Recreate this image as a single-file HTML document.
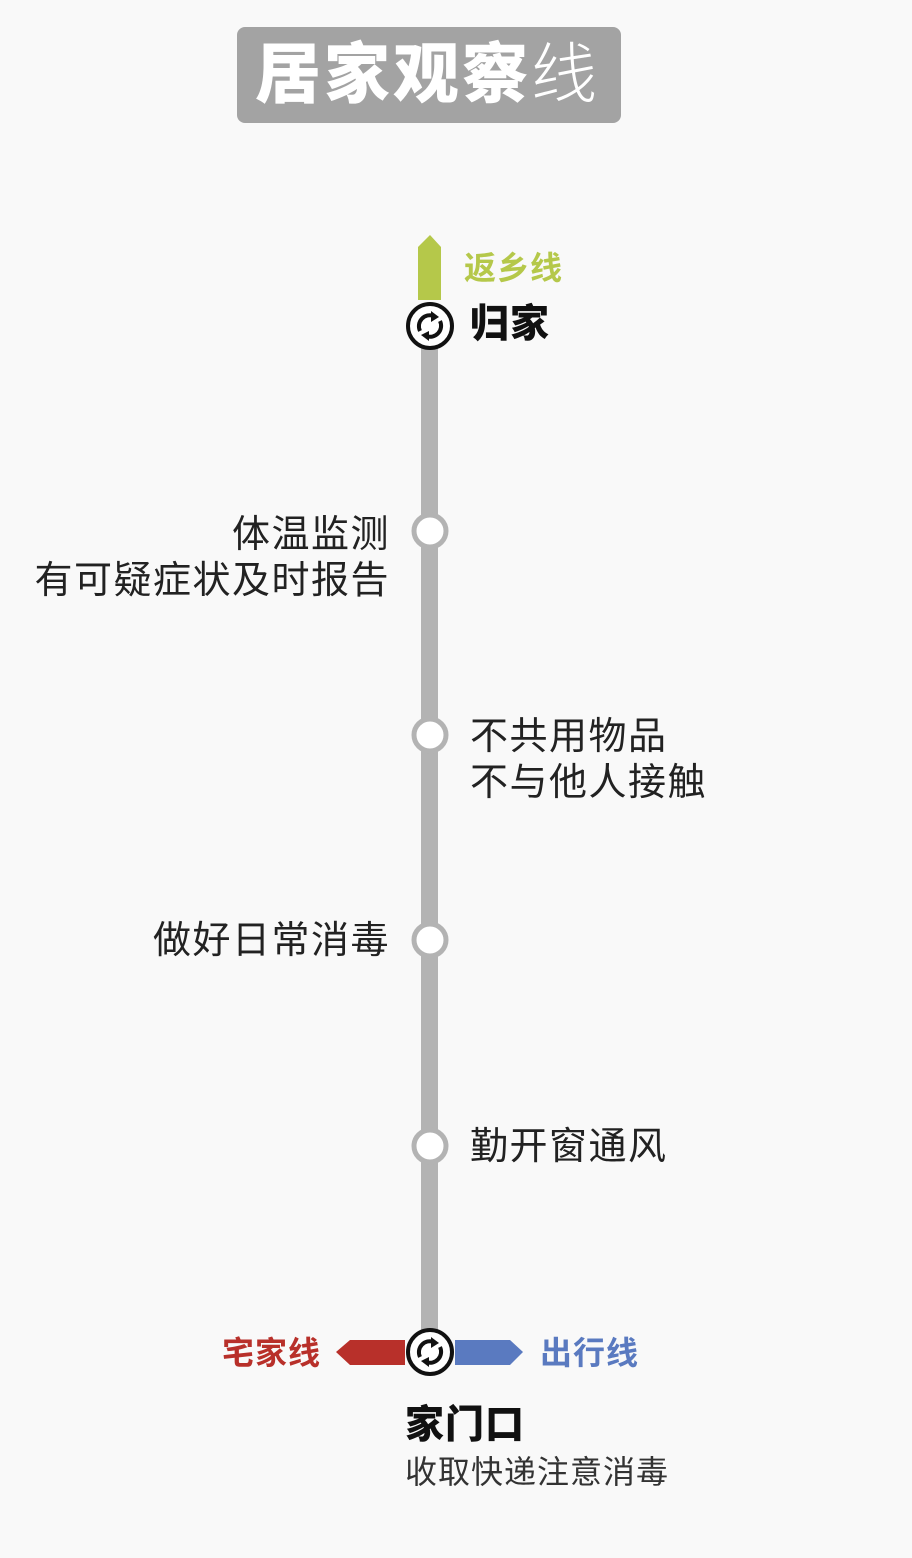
<!DOCTYPE html>
<html><head><meta charset="utf-8"><style>
body{margin:0;width:912px;height:1558px;background:#f9f9f9;position:relative;overflow:hidden;font-family:"Liberation Sans","Noto Sans CJK SC",sans-serif}
.t{position:absolute;white-space:nowrap;color:#222;font-size:38px;line-height:46px;letter-spacing:1.5px}
</style></head><body>
<div style="position:absolute;left:237px;top:27px;width:384px;height:96px;background:#a3a3a3;border-radius:8px"></div>
<div class="t" style="left:255px;top:34px;font-size:66px;line-height:80px;color:#fff;font-weight:900;letter-spacing:3px">居家观察<span style="font-weight:300">线</span></div>
<svg width="912" height="1558" style="position:absolute;left:0;top:0">
<rect x="421" y="345" width="17" height="990" fill="#b3b3b3"/>
<polygon points="418,300 418,247 430,235 441,247 441,300" fill="#b5c84a"/>
<polygon points="405,1340 350,1340 336,1352 350,1365 405,1365" fill="#b8302a"/>
<polygon points="455,1340 510,1340 523,1352 510,1365 455,1365" fill="#5a7ac0"/>
<g fill="#fff" stroke="#b3b3b3" stroke-width="5">
<circle cx="430" cy="531" r="16"/><circle cx="430" cy="735" r="16"/><circle cx="430" cy="940" r="16"/><circle cx="430" cy="1146" r="16"/>
</g>
<g id="ic">
<circle cx="430" cy="326" r="22" fill="#fff" stroke="#111" stroke-width="4"/>
<path d="M420 331 A11 11 0 0 1 434 316" stroke="#111" stroke-width="4" fill="none"/>
<polygon points="431,311 439,317 431,322" fill="#111"/>
<path d="M440 321 A11 11 0 0 1 426 336" stroke="#111" stroke-width="4" fill="none"/>
<polygon points="429,331 421,335 429,341" fill="#111"/>
</g>
<use href="#ic" transform="translate(0,1026)"/>
</svg>
<div class="t" style="left:464px;top:245px;font-size:32px;color:#b5c84a;font-weight:bold;letter-spacing:1px">返乡线</div>
<div class="t" style="left:470px;top:302px;font-size:39px;font-weight:900;color:#111;letter-spacing:1px">归家</div>
<div class="t" style="right:522px;top:512px;text-align:right">体温监测<br>有可疑症状及时报告</div>
<div class="t" style="left:470px;top:714px">不共用物品<br>不与他人接触</div>
<div class="t" style="right:522px;top:918px">做好日常消毒</div>
<div class="t" style="left:470px;top:1124px">勤开窗通风</div>
<div class="t" style="left:222px;top:1330px;font-size:32px;color:#b8302a;font-weight:bold;letter-spacing:1px">宅家线</div>
<div class="t" style="left:540px;top:1330px;font-size:32px;color:#5a7ac0;font-weight:bold;letter-spacing:1px">出行线</div>
<div class="t" style="left:405px;top:1403px;font-size:39px;font-weight:900;color:#111;letter-spacing:1px">家门口</div>
<div class="t" style="left:405px;top:1452px;font-size:32px;line-height:40px;color:#333;letter-spacing:1px">收取快递注意消毒</div>
</body></html>
